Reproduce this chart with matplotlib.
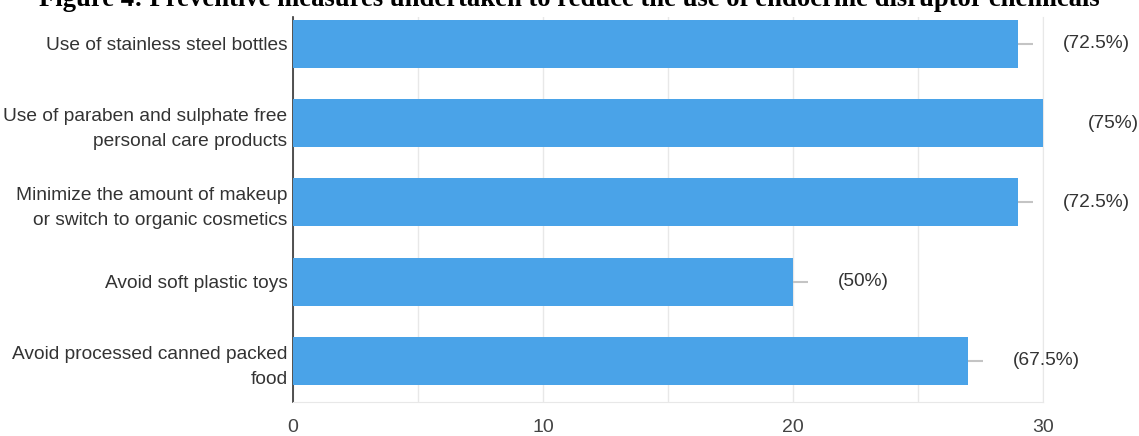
import numpy as np
import matplotlib.pyplot as plt

measures = [
    "Use of stainless steel bottles",
    "Use of paraben and sulphate free\npersonal care products",
    "Minimize the amount of makeup\nor switch to organic cosmetics",
    "Avoid soft plastic toys",
    "Avoid processed canned packed\nfood",
]
counts = [29, 30, 29, 20, 27]
percent_labels = ["(72.5%)", "(75%)", "(72.5%)", "(50%)", "(67.5%)"]

plt.rcParams["font.family"] = ["Liberation Sans", "DejaVu Sans"]

fig = plt.figure(figsize=(11.39, 4.36), dpi=100)
ax = fig.add_axes([0.2572, 0.078, 0.6585, 0.883])

y = np.arange(len(measures))
ax.barh(y, counts, height=0.605, color="#4aa3e8", zorder=3)

# short grey stubs past each bar end
ax.hlines(y, counts, np.array(counts) + 0.6, color="#c4c4c4", lw=1.5, zorder=2)

for yi, c, lab in zip(y, counts, percent_labels):
    ax.text(c + 1.8, yi, lab, va="center", ha="left", fontsize=13.8, color="#333333")

ax.set_xlim(0, 30)
ax.set_ylim(len(measures) - 0.48, -0.34)
ax.set_xticks([0, 10, 20, 30])
ax.set_xticks(np.arange(0, 31, 5), minor=True)
ax.grid(axis="x", which="both", color="#e8e8e8", lw=1, zorder=0)
ax.set_yticks(y)
ax.set_yticklabels(measures, fontsize=13.8, color="#333333", linespacing=1.6)
ax.tick_params(axis="x", which="both", length=0, labelsize=14, labelcolor="#444444", pad=12)
ax.tick_params(axis="y", length=0, pad=4)

ax.spines["top"].set_visible(False)
ax.spines["right"].set_color("#e8e8e8")
ax.spines["bottom"].set_color("#e8e8e8")
ax.spines["left"].set_color("#333333")
ax.spines["left"].set_linewidth(1.2)

fig.text(0.5, 0.986, "Figure 4: Preventive measures undertaken to reduce the use of endocrine disruptor chemicals",
         ha="center", va="baseline", fontsize=19.2, fontweight="bold", family="Liberation Serif")

fig.savefig("out.png", dpi=100)
